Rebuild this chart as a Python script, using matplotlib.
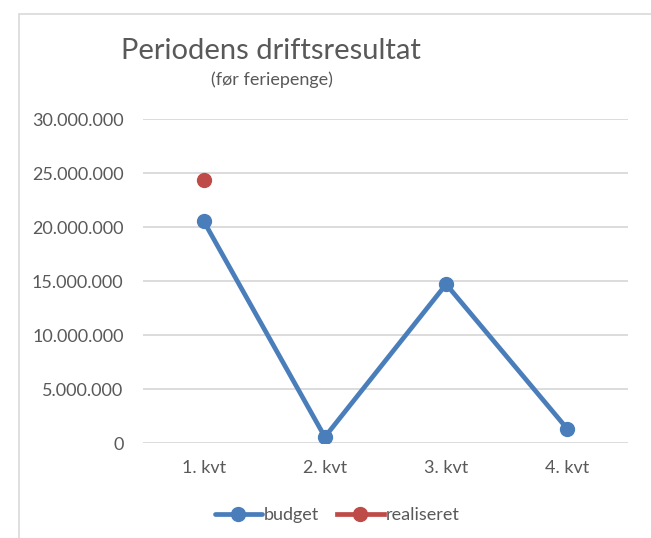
import matplotlib.pyplot as plt
from matplotlib.patches import Rectangle
from matplotlib.ticker import FuncFormatter

# data
kvartaler = ['1. kvt', '2. kvt', '3. kvt', '4. kvt']
budget = [20550000, 560000, 14700000, 1300000]
realiseret = [24350000, None, None, None]

plt.rcParams['font.family'] = ['Lato', 'DejaVu Sans']

fig = plt.figure(figsize=(6.51, 5.38), dpi=100)
ax = fig.add_axes([143/651, 1 - 443/538, 485/651, 324/538])

# ramme rundt diagrammet
fig.patches.append(Rectangle((19/651, -0.1), 1, 1 - 14/538 + 0.1, transform=fig.transFigure,
                             fill=False, edgecolor='#d9d9d9', lw=1.2))

x = range(len(kvartaler))
ax.plot(x, budget, color='#4a7ebb', lw=3.4, marker='o', ms=10, label='budget',
        solid_capstyle='round')
rx = [i for i, v in zip(x, realiseret) if v is not None]
ry = [v for v in realiseret if v is not None]
ax.plot(rx, ry, color='#be4b48', lw=3.4, marker='o', ms=10, label='realiseret')

ax.set_xlim(-0.5, 3.5)
ax.set_ylim(0, 30000000)
ax.set_yticks(range(0, 30000001, 5000000))
ax.yaxis.set_major_formatter(FuncFormatter(lambda v, p: f'{int(v):,}'.replace(',', '.')))
ax.set_xticks(list(x))
ax.set_xticklabels(kvartaler)
ax.tick_params(length=0, labelsize=13, labelcolor='#595959', pad=12)
ax.tick_params(axis='y', pad=14)
ax.grid(axis='y', color='#d9d9d9', lw=1.3)
ax.set_axisbelow(True)
for s in ax.spines.values():
    s.set_visible(False)

fig.text(271/651, 1 - 51/538, 'Periodens driftsresultat', ha='center', va='center',
         fontsize=21, color='#595959')
fig.text(272/651, 1 - 80/538, '(før feriepenge)', ha='center', va='center',
         fontsize=13, color='#595959')

ax.legend(loc='center', bbox_to_anchor=(337/651, 1 - 515/538), bbox_transform=fig.transFigure,
          ncol=2, frameon=False, fontsize=13, labelcolor='#595959', handlelength=2.6,
          handletextpad=0.1, columnspacing=1.0)

plt.savefig('out.png', dpi=100)
